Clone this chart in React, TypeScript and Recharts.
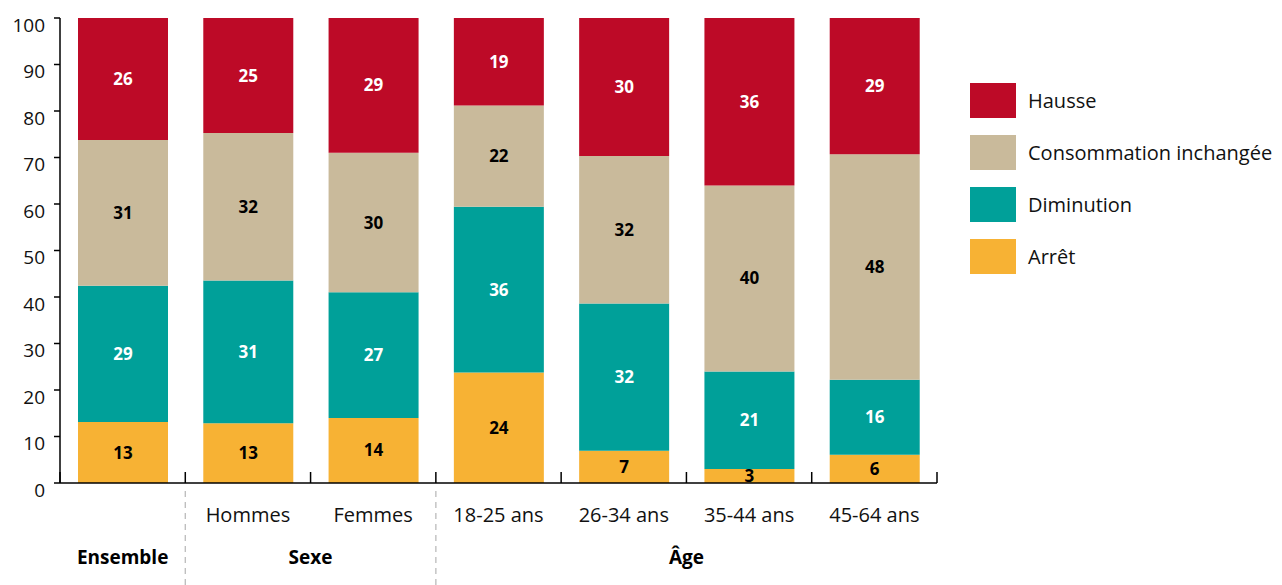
import React from "react";
import { BarChart, Bar, XAxis, YAxis, LabelList, Legend } from "recharts";

const categories = ["Ensemble", "Hommes", "Femmes", "18-25 ans", "26-34 ans", "35-44 ans", "45-64 ans"];
const tickLabels = ["", "Hommes", "Femmes", "18-25 ans", "26-34 ans", "35-44 ans", "45-64 ans"];
const groupLabels = ["Ensemble", "Sexe", "Âge"];
const groupSizes = [1, 2, 4];

const arret = [13, 13, 14, 24, 7, 3, 6];
const diminution = [29, 31, 27, 36, 32, 21, 16];
const inchangee = [31, 32, 30, 22, 32, 40, 48];
const hausse = [26, 25, 29, 19, 30, 36, 29];

const yTicks = [0, 10, 20, 30, 40, 50, 60, 70, 80, 90, 100];

const seriesKeys = ["arret", "diminution", "inchangee", "hausse"];
const seriesNames = ["Arrêt", "Diminution", "Consommation inchangée", "Hausse"];
const seriesColors = ["#F7B234", "#00A099", "#C9BA9B", "#BD0A27"];
const labelColors = ["#000", "#fff", "#000", "#fff"];

const data = categories.map((c, i) => ({
  name: c,
  arret: arret[i],
  diminution: diminution[i],
  inchangee: inchangee[i],
  hausse: hausse[i],
}));

const FONT = "'Open Sans', sans-serif";
const WIDTH = 1282;
const HEIGHT = 585;
const MARGIN = { top: 18, right: 345, left: 0, bottom: 0 };
const Y_AXIS_W = 60;
const BAND = (WIDTH - MARGIN.left - MARGIN.right - Y_AXIS_W) / categories.length;

// group start index for each category
const groupStarts: number[] = [];
groupSizes.reduce((acc, s) => {
  groupStarts.push(acc);
  return acc + s;
}, 0);

function CategoryTick(props: any) {
  const { x, y, payload } = props;
  const i = categories.indexOf(payload.value);
  const g = groupStarts.indexOf(i);
  const left = x - BAND / 2;
  const right = x + BAND / 2;
  return (
    <g>
      {i === 0 && <line x1={left} x2={left} y1={y} y2={y - 11} stroke="#000" strokeWidth={1.5} />}
      <line x1={right} x2={right} y1={y} y2={y - 11} stroke="#000" strokeWidth={1.5} />
      <text x={x} y={y + 39} textAnchor="middle" fontSize={20} fontFamily={FONT} fill="#111">
        {tickLabels[i]}
      </text>
      {g > 0 && (
        <line x1={left} x2={left} y1={y + 8} y2={HEIGHT} stroke="#bbb" strokeWidth={1.3} strokeDasharray="6 5" />
      )}
      {g >= 0 && (
        <text
          x={left + (groupSizes[g] * BAND) / 2}
          y={y + 81}
          textAnchor="middle"
          fontSize={19}
          fontWeight="bold"
          fontFamily={FONT}
          fill="#000"
        >
          {groupLabels[g]}
        </text>
      )}
    </g>
  );
}

function LegendContent() {
  const order = [3, 2, 1, 0];
  return (
    <div style={{ fontFamily: FONT, fontSize: 20, color: "#111" }}>
      {order.map((k) => (
        <div key={k} style={{ display: "flex", alignItems: "center", height: 52 }}>
          <div style={{ width: 46, height: 35, background: seriesColors[k], marginRight: 12 }} />
          <span style={{ whiteSpace: "nowrap" }}>{seriesNames[k]}</span>
        </div>
      ))}
    </div>
  );
}

export default function App() {
  return (
    <div style={{ position: "absolute", left: 0, top: 0, width: WIDTH, height: HEIGHT, background: "#fff" }}>
      <BarChart width={WIDTH} height={HEIGHT} data={data} margin={MARGIN} stackOffset="expand" barSize={90}>
        <YAxis
          width={Y_AXIS_W}
          domain={[0, 1]}
          ticks={yTicks.map((t) => t / 100)}
          tickFormatter={(v: number) => String(Math.round(v * 100))}
          axisLine={{ stroke: "#000", strokeWidth: 1.5 }}
          tickLine={{ stroke: "#000", strokeWidth: 1.5 }}
          tickSize={6}
          tickMargin={9}
          tick={{ fill: "#111", fontSize: 19, fontFamily: FONT, dy: 7 }}
          interval={0}
        />
        <XAxis
          dataKey="name"
          height={HEIGHT - 483}
          axisLine={{ stroke: "#000", strokeWidth: 1.5 }}
          tickLine={false}
          tickSize={0}
          tickMargin={0}
          interval={0}
          tick={<CategoryTick />}
        />
        <Legend
          layout="horizontal"
          align="center"
          verticalAlign="middle"
          wrapperStyle={{ left: 970, top: 74, width: 312 }}
          content={<LegendContent />}
        />
        {seriesKeys.map((k, i) => (
          <Bar key={k} dataKey={k} name={seriesNames[i]} stackId="a" fill={seriesColors[i]} isAnimationActive={false}>
            <LabelList
              dataKey={k}
              position="center"
              fill={labelColors[i]}
              fontSize={17}
              fontWeight="bold"
              fontFamily={FONT}
            />
          </Bar>
        ))}
      </BarChart>
    </div>
  );
}
